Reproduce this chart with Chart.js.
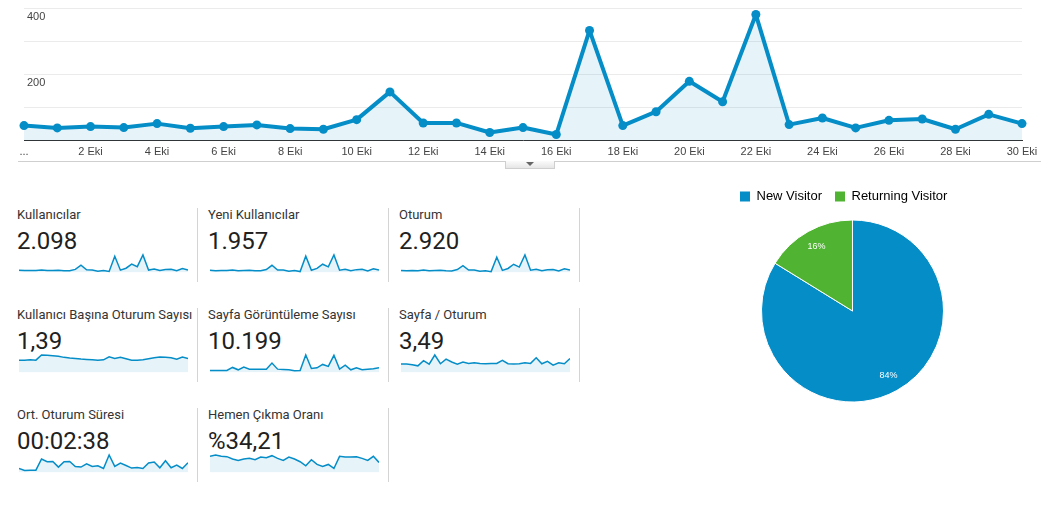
<!DOCTYPE html>
<html>
<head>
<meta charset="utf-8">
<script src="https://cdn.jsdelivr.net/npm/chart.js@4.4.1/dist/chart.umd.min.js"></script>
<style>
  body { margin: 0; background: #fff; width: 1056px; height: 509px; overflow: hidden; position: relative; font-family: Roboto, Arial, sans-serif; }
  .abs { position: absolute; }
  #mainChart { left: 0; top: -1px; }
  .bottomLine { left: 18px; top: 161px; width: 1023px; height: 1px; background: #cfcfcf; }
  .tab { left: 505px; top: 161px; width: 50px; height: 8px; box-sizing: border-box; border: 1px solid #cfcfcf; border-top: none; background: linear-gradient(#fbfbfb, #e6e6e6); }
  .tab:after { content: ''; position: absolute; left: 20px; top: 1px; border-left: 4px solid transparent; border-right: 4px solid transparent; border-top: 4px solid #666; }
  .title { font-size: 13px; line-height: 13px; color: #333; white-space: nowrap; }
  .value { font-size: 24px; line-height: 24px; color: #212121; white-space: nowrap; }
  .sep { width: 1px; height: 74px; background: #d4d4d4; }
</style>
</head>
<body>
<canvas id="mainChart" class="abs" width="1056" height="165"></canvas>
<div class="abs bottomLine"></div>
<div class="abs tab"></div>
<div id="cards"></div>
<canvas id="pieChart" class="abs" width="251" height="232" style="left:727px; top:177px;"></canvas>

<script>
// x axis labels of the main chart (30 Eyl .. 30 Eki)
const xLabels = ['...', '1 Eki', '2 Eki', '3 Eki', '4 Eki', '5 Eki', '6 Eki', '7 Eki', '8 Eki', '9 Eki',
  '10 Eki', '11 Eki', '12 Eki', '13 Eki', '14 Eki', '15 Eki', '16 Eki', '17 Eki', '18 Eki', '19 Eki',
  '20 Eki', '21 Eki', '22 Eki', '23 Eki', '24 Eki', '25 Eki', '26 Eki', '27 Eki', '28 Eki', '29 Eki', '30 Eki'];

// daily sessions (main chart + Oturum sparkline)
const sessions = [46, 39, 43, 40, 52, 38, 43, 48, 37, 35, 64, 148, 54, 54, 25, 40, 19, 334, 46, 88, 180, 118, 382, 49, 69, 39, 62, 66, 35, 80, 52];

// sparkline series
const users = [34, 30, 32, 31, 38, 29, 32, 35, 28, 27, 48, 112, 41, 40, 20, 30, 16, 250, 36, 66, 130, 90, 270, 38, 52, 30, 46, 50, 27, 60, 40];
const newUsers = [32, 28, 30, 29, 36, 27, 30, 33, 26, 25, 45, 108, 38, 37, 18, 28, 14, 245, 33, 62, 124, 85, 262, 35, 48, 27, 43, 47, 24, 56, 37];
const sessionsPerUser = [1.20, 1.20, 1.23, 1.20, 1.70, 1.67, 1.63, 1.57, 1.47, 1.40, 1.37, 1.30, 1.27, 1.23, 1.20, 1.23, 1.53, 1.37, 1.47, 1.33, 1.20, 1.20, 1.23, 1.33, 1.43, 1.50, 1.47, 1.43, 1.30, 1.50, 1.37];
const pageviews = [144, 144, 144, 150, 361, 192, 385, 240, 240, 235, 240, 673, 240, 216, 192, 120, 144, 1250, 288, 337, 577, 433, 1226, 240, 529, 192, 337, 192, 240, 264, 337];
const pagesPerSession = [3.12, 3.12, 2.86, 2.47, 4.42, 3.12, 6.5, 3.25, 4.94, 3.90, 3.12, 3.90, 3.38, 3.64, 3.38, 3.25, 3.38, 3.38, 4.55, 3.25, 3.12, 3.25, 3.64, 3.38, 5.46, 3.25, 4.16, 2.73, 3.64, 3.25, 5.2];
const avgDuration = [76, 38, 44, 44, 254, 203, 209, 102, 203, 209, 114, 102, 165, 114, 127, 76, 330, 114, 178, 133, 83, 95, 76, 178, 197, 89, 222, 89, 140, 76, 184];
const bounceRate = [48, 52, 48, 47, 40, 36, 40, 42, 38, 46, 44, 50, 42, 36, 46, 40, 32, 20, 38, 24, 18, 24, 12, 48, 46, 46, 47, 42, 36, 48, 30];

const cardTitles = ['Kullanıcılar', 'Yeni Kullanıcılar', 'Oturum',
  'Kullanıcı Başına Oturum Sayısı', 'Sayfa Görüntüleme Sayısı', 'Sayfa / Oturum',
  'Ort. Oturum Süresi', 'Hemen Çıkma Oranı'];
const cardValues = ['2.098', '1.957', '2.920', '1,39', '10.199', '3,49', '00:02:38', '%34,21'];
const cardSeries = [users, newUsers, sessions, sessionsPerUser, pageviews, pagesPerSession, avgDuration, bounceRate];

// pie
const pieLabels = ['New Visitor', 'Returning Visitor'];
const pieValues = [83.8, 16.2];
const pieColors = ['#058dc7', '#50b432'];

const BLUE = '#058dc7';
const FILL = 'rgba(5, 141, 199, 0.1)';
const ARIAL = '"Liberation Sans", Arial, sans-serif';

// Main sessions chart
new Chart(document.getElementById('mainChart'), {
  type: 'line',
  data: {
    labels: xLabels,
    datasets: [{
      data: sessions,
      borderColor: BLUE,
      backgroundColor: FILL,
      fill: 'origin',
      borderWidth: 4,
      borderJoinStyle: 'round',
      pointRadius: 4.5,
      pointBorderWidth: 0,
      pointBackgroundColor: BLUE,
      tension: 0,
      clip: false
    }]
  },
  options: {
    responsive: false,
    animation: false,
    // y axis takes 2 * tick padding, so 18 + 6 puts the plot edge at x = 24
    layout: { padding: { left: 18, right: 34, top: 6, bottom: 0 } },
    plugins: { legend: { display: false }, tooltip: { enabled: false } },
    scales: {
      x: {
        grid: { display: false, drawTicks: false },
        border: { color: '#333', width: 1 },
        ticks: {
          autoSkip: false, maxRotation: 0, padding: 5, color: '#444',
          font: { family: ARIAL, size: 11 },
          callback: (v, i) => (i % 2 === 0 ? xLabels[i] : '')
        }
      },
      y: {
        min: 0, max: 400,
        grid: { color: '#ebebeb', drawTicks: false },
        border: { display: false },
        ticks: {
          stepSize: 100, mirror: true, padding: 3, labelOffset: 8, color: '#444',
          font: { family: ARIAL, size: 11 },
          callback: v => (v === 200 || v === 400 ? String(v) : '')
        }
      }
    }
  }
});

// Metric cards with sparklines
const cards = document.getElementById('cards');
cardTitles.forEach((title, i) => {
  const col = i % 3, row = Math.floor(i / 3);
  const left = 17 + col * 191, top = row * 100;

  const t = document.createElement('div');
  t.className = 'abs title';
  t.style.left = left + 'px'; t.style.top = (208 + top) + 'px';
  t.textContent = title;
  cards.appendChild(t);

  const v = document.createElement('div');
  v.className = 'abs value';
  v.style.left = left + 'px'; v.style.top = (229 + top) + 'px';
  v.textContent = cardValues[i];
  cards.appendChild(v);

  const c = document.createElement('canvas');
  c.className = 'abs';
  c.width = 169; c.height = 21;
  c.style.left = (left + 2) + 'px'; c.style.top = (253 + top) + 'px';
  cards.appendChild(c);

  const series = cardSeries[i];
  new Chart(c, {
    type: 'line',
    data: {
      labels: xLabels,
      datasets: [{
        data: series, borderColor: BLUE, backgroundColor: FILL, fill: 'origin',
        borderWidth: 1.5, pointRadius: 0, tension: 0, clip: false
      }]
    },
    options: {
      responsive: false, animation: false,
      layout: { padding: { top: 2, bottom: 1.5, left: 0, right: 0 } },
      plugins: { legend: { display: false }, tooltip: { enabled: false } },
      scales: {
        x: { display: false },
        y: { display: false, min: 0, max: Math.max(...series) }
      }
    }
  });
});

// column separators
[197, 388, 579].forEach((x, col) => {
  [0, 1, 2].forEach(row => {
    if (row === 2 && col === 2) return;
    const s = document.createElement('div');
    s.className = 'abs sep';
    s.style.left = x + 'px'; s.style.top = (208 + row * 100) + 'px';
    cards.appendChild(s);
  });
});

// Percent labels inside the pie slices
const sliceLabels = {
  id: 'sliceLabels',
  afterDatasetsDraw(chart) {
    const ctx = chart.ctx;
    const meta = chart.getDatasetMeta(0);
    const total = pieValues.reduce((a, b) => a + b, 0);
    ctx.save();
    ctx.font = '9px ' + ARIAL;
    ctx.fillStyle = '#fff';
    ctx.textAlign = 'center';
    ctx.textBaseline = 'middle';
    meta.data.forEach((arc, i) => {
      const p = arc.getProps(['x', 'y', 'startAngle', 'endAngle', 'outerRadius']);
      const mid = (p.startAngle + p.endAngle) / 2;
      const r = p.outerRadius * 0.81;
      ctx.fillText(Math.round(pieValues[i] / total * 100) + '%', p.x + Math.cos(mid) * r, p.y + Math.sin(mid) * r);
    });
    ctx.restore();
  }
};

new Chart(document.getElementById('pieChart'), {
  type: 'pie',
  data: {
    labels: pieLabels,
    datasets: [{ data: pieValues, backgroundColor: pieColors, borderColor: '#fff', borderWidth: 1 }]
  },
  options: {
    responsive: false, animation: false,
    radius: 91,
    layout: { padding: 0 },
    plugins: {
      tooltip: { enabled: false },
      legend: {
        position: 'top', align: 'start',
        labels: {
          boxWidth: 10, boxHeight: 10, padding: 13, color: '#222',
          font: { family: ARIAL, size: 13 },
          generateLabels: chart => pieLabels.map((label, i) => ({
            text: label, fillStyle: pieColors[i], strokeStyle: pieColors[i], lineWidth: 0, index: i
          }))
        }
      }
    }
  },
  plugins: [sliceLabels]
});
</script>
</body>
</html>
